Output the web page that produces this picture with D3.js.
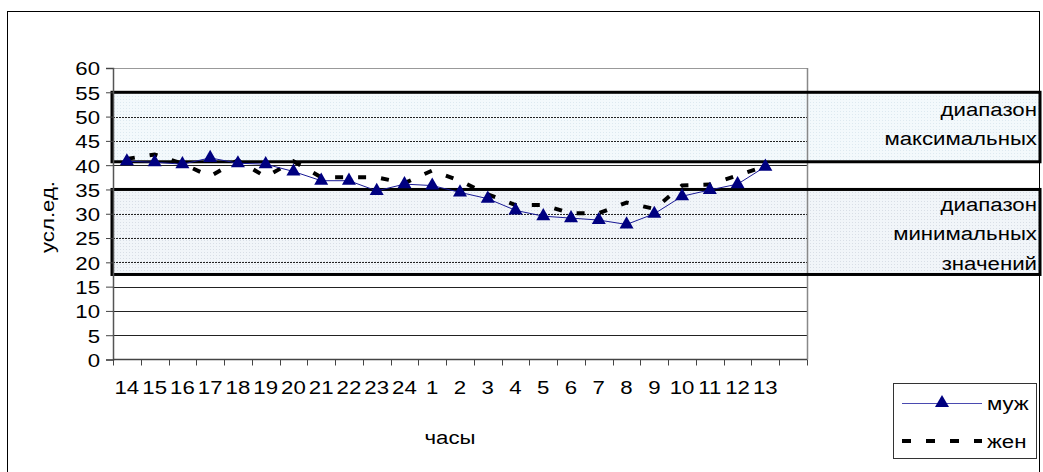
<!DOCTYPE html>
<html>
<head>
<meta charset="utf-8">
<script src="https://cdn.jsdelivr.net/npm/d3@7"></script>
<style>
  html, body { margin: 0; padding: 0; background: #fff; }
  svg { display: block; }
  text { font-family: "Liberation Sans", Arial, sans-serif; fill: #000; }
</style>
</head>
<body>
<svg id="chart" width="1043" height="472"></svg>
<script>
// Hours of the day, starting at 14:00
const hours = ["14","15","16","17","18","19","20","21","22","23","24",
               "1","2","3","4","5","6","7","8","9","10","11","12","13"];
// Average values, men
const men = [40.8, 40.6, 40.2, 41.5, 40.4, 40.2, 38.7, 36.8, 36.8, 34.7, 36.1, 35.8,
             34.4, 33.1, 30.7, 29.5, 29.1, 28.7, 27.8, 30.0, 33.6, 34.9, 36.1, 39.7];
// Average values, women
const women = [41.3, 42.2, 40.3, 37.7, 41.0, 37.6, 40.8, 37.5, 37.5, 37.5, 36.3, 38.9,
               36.8, 34.0, 31.8, 31.8, 30.1, 30.1, 32.3, 31.0, 35.8, 36.0, 37.9, 39.8];
// Reference ranges [from, to] with their labels
const rangeMax = [40.7, 55];
const rangeMin = [17.5, 35];
const rangeMaxLabel = ["диапазон", "максимальных"];
const rangeMinLabel = ["диапазон", "минимальных", "значений"];
const yTicks = [0, 5, 10, 15, 20, 25, 30, 35, 40, 45, 50, 55, 60];
const seriesNames = ["муж", "жен"];

const svg = d3.select("#chart");
const plot = { left: 113, right: 807, top: 68, bottom: 359.5 };
const FS = 19;      // text size
const WIDEN = 1.17; // horizontal stretch of all text

// Stretch a text element horizontally around its own x anchor
function widen(sel) {
  sel.attr("transform", function () {
    const x0 = +this.getAttribute("x") || 0;
    return `translate(${x0},0) scale(${WIDEN},1) translate(${-x0},0)`;
  });
}

// One empty slot follows the last hour on the category axis
const slots = d3.range(hours.length + 1);
const x = d3.scaleBand().domain(slots).range([plot.left, plot.right]);
const y = d3.scaleLinear().domain([0, 60]).range([plot.bottom, plot.top]);
const cx = i => x(i) + x.bandwidth() / 2;

// Outer chart frame
svg.append("rect")
  .attr("x", 7.5).attr("y", 11.5).attr("width", 1032).attr("height", 470)
  .attr("fill", "#fff").attr("stroke", "#000").attr("stroke-width", 1);

// Dotted textures for the range bands
const defs = svg.append("defs");
const patMax = defs.append("pattern").attr("id", "dotsMax")
  .attr("width", 3).attr("height", 3).attr("patternUnits", "userSpaceOnUse");
patMax.append("rect").attr("width", 3).attr("height", 3).attr("fill", "#f3f9fc");
patMax.append("rect").attr("width", 1).attr("height", 1).attr("fill", "#dde9f0");
const patMin = defs.append("pattern").attr("id", "dotsMin")
  .attr("width", 3).attr("height", 3).attr("patternUnits", "userSpaceOnUse");
patMin.append("rect").attr("width", 3).attr("height", 3).attr("fill", "#f1f5f9");
patMin.append("rect").attr("width", 1).attr("height", 1).attr("fill", "#d8dee6");

const bandRight = 1040;
[[rangeMax, "url(#dotsMax)"], [rangeMin, "url(#dotsMin)"]].forEach(([r, fill]) => {
  svg.append("rect")
    .attr("x", plot.left - 1).attr("y", y(r[1]))
    .attr("width", bandRight - plot.left + 1).attr("height", y(r[0]) - y(r[1]))
    .attr("fill", fill);
});

// Horizontal gridlines
svg.append("g").selectAll("line")
  .data(yTicks.filter(t => t > 0))
  .join("line")
  .attr("x1", plot.left).attr("x2", plot.right)
  .attr("y1", d => Math.round(y(d)) + 0.5).attr("y2", d => Math.round(y(d)) + 0.5)
  .attr("stroke", d => d === 60 ? "#999" : "#222")
  .attr("stroke-width", 1)
  .attr("stroke-dasharray", d => ((d > rangeMin[0] && d < rangeMin[1]) || (d > rangeMax[0] && d < rangeMax[1])) ? "2,1" : null);

// Right edge of the plot area
svg.append("line")
  .attr("x1", plot.right + 0.5).attr("x2", plot.right + 0.5)
  .attr("y1", plot.top).attr("y2", plot.bottom)
  .attr("stroke", "#888").attr("stroke-width", 1.5);

// Band outlines
[rangeMax, rangeMin].forEach(r => {
  svg.append("rect")
    .attr("x", plot.left - 1).attr("y", y(r[1]))
    .attr("width", bandRight - plot.left + 1).attr("height", y(r[0]) - y(r[1]))
    .attr("fill", "none").attr("stroke", "#000").attr("stroke-width", 3);
});

// Y axis
const yAxis = svg.append("g")
  .attr("transform", `translate(${plot.left},0)`)
  .call(d3.axisLeft(y).tickValues(yTicks).tickSize(7).tickPadding(5));
yAxis.attr("font-size", null).attr("font-family", null);
yAxis.select(".domain").attr("stroke", "#555").attr("stroke-width", 1.5);
yAxis.selectAll(".tick line").attr("stroke", "#444");
yAxis.selectAll("text")
  .attr("font-size", FS)
  .attr("x", -13)
  .attr("dy", "0.36em")
  .call(widen);

// X axis: ticks on slot boundaries, labels in slot centres
const xAxisG = svg.append("g").attr("transform", `translate(0,${plot.bottom})`);
xAxisG.append("line")
  .attr("x1", plot.left).attr("x2", plot.right)
  .attr("stroke", "#444").attr("stroke-width", 1.5);
xAxisG.selectAll(".tk").data(d3.range(slots.length + 1)).join("line")
  .attr("class", "tk")
  .attr("x1", i => Math.round(plot.left + i * x.step()) + 0.5)
  .attr("x2", i => Math.round(plot.left + i * x.step()) + 0.5)
  .attr("y1", 0).attr("y2", 6).attr("stroke", "#444");
xAxisG.selectAll(".lbl").data(hours).join("text")
  .attr("class", "lbl")
  .attr("x", (d, i) => cx(i)).attr("y", 35)
  .attr("text-anchor", "middle").attr("font-size", FS)
  .text(d => d)
  .call(widen);

// Axis titles
svg.append("text")
  .attr("transform", `translate(54,217) rotate(-90) scale(${WIDEN},1)`)
  .attr("text-anchor", "middle").attr("font-size", FS)
  .text("усл.ед.");
svg.append("text")
  .attr("x", 450).attr("y", 444)
  .attr("text-anchor", "middle").attr("font-size", FS)
  .text("часы")
  .call(widen);

// Band labels
rangeMaxLabel.forEach((t, i) => {
  svg.append("text").attr("x", 1037).attr("y", 116 + i * 29.5)
    .attr("text-anchor", "end").attr("font-size", FS).text(t).call(widen);
});
rangeMinLabel.forEach((t, i) => {
  svg.append("text").attr("x", 1037).attr("y", 211 + i * 29.5)
    .attr("text-anchor", "end").attr("font-size", FS).text(t).call(widen);
});

// Women: thick dashed line
const line = d3.line().x((d, i) => cx(i)).y(d => y(d));
svg.append("path")
  .datum(women)
  .attr("d", line)
  .attr("fill", "none").attr("stroke", "#000")
  .attr("stroke-width", 4).attr("stroke-dasharray", "8,15");

// Men: thin line with triangle markers
svg.append("path")
  .datum(men)
  .attr("d", line)
  .attr("fill", "none").attr("stroke", "#1a1a96").attr("stroke-width", 1);

const tri = d3.symbol().type(d3.symbolTriangle).size(85);
svg.append("g").selectAll("path")
  .data(men).join("path")
  .attr("d", tri)
  .attr("transform", (d, i) => `translate(${cx(i)},${y(d)})`)
  .attr("fill", "#000080");

// Legend
const lg = svg.append("g");
lg.append("rect")
  .attr("x", 893.5).attr("y", 383.5).attr("width", 143).attr("height", 75)
  .attr("fill", "#fff").attr("stroke", "#333").attr("stroke-width", 1);
lg.append("line").attr("x1", 902).attr("x2", 982).attr("y1", 403.5).attr("y2", 403.5)
  .attr("stroke", "#4a4ab0").attr("stroke-width", 1);
lg.append("path").attr("d", tri).attr("transform", "translate(942,403)").attr("fill", "#000080");
lg.append("line").attr("x1", 902).attr("x2", 982).attr("y1", 441).attr("y2", 441)
  .attr("stroke", "#000").attr("stroke-width", 4).attr("stroke-dasharray", "9,15");
lg.append("text").attr("x", 987).attr("y", 410).attr("font-size", FS).text(seriesNames[0]).call(widen);
lg.append("text").attr("x", 987).attr("y", 448).attr("font-size", FS).text(seriesNames[1]).call(widen);
</script>
</body>
</html>
